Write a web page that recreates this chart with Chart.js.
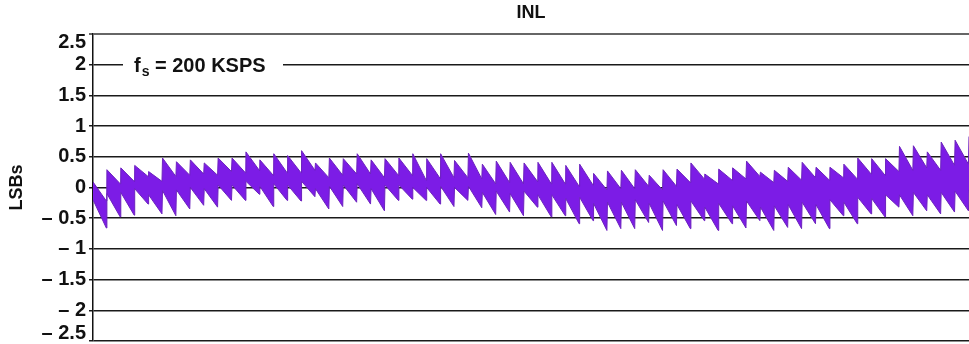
<!DOCTYPE html>
<html>
<head>
<meta charset="utf-8">
<script src="https://cdn.jsdelivr.net/npm/chart.js@4.4.0/dist/chart.umd.min.js"></script>
<style>
  html, body { margin: 0; padding: 0; background: #fff; }
  #wrap { width: 969px; height: 344px; }
</style>
</head>
<body>
<div id="wrap"><canvas id="inl"></canvas></div>
<script>
// y axis ticks and their printed labels
const yTicks = [-2.5, -2, -1.5, -1, -0.5, 0, 0.5, 1, 1.5, 2, 2.5];
const yTickLabels = ['– 2.5', '– 2', '– 1.5', '– 1', '– 0.5', '0', '0.5', '1', '1.5', '2', '2.5'];

// one entry per sawtooth code segment, first one (index -1) is cut by the axis
const firstTooth = -1;
// top of each tooth at its rising edge (LSB)
const toothPeak = [
  0.09, 0.29, 0.32, 0.36, 0.26, 0.48, 0.42, 0.45, 0.40, 0.48,
  0.48, 0.58, 0.45, 0.55, 0.52, 0.60, 0.40, 0.48, 0.47, 0.55,
  0.45, 0.47, 0.48, 0.55, 0.47, 0.55, 0.44, 0.56, 0.38, 0.43,
  0.41, 0.40, 0.41, 0.41, 0.36, 0.38, 0.23, 0.27, 0.28, 0.29,
  0.20, 0.29, 0.30, 0.40, 0.22, 0.30, 0.32, 0.43, 0.25, 0.28,
  0.33, 0.41, 0.33, 0.33, 0.38, 0.48, 0.47, 0.47, 0.67, 0.68,
  0.58, 0.74, 0.77, 0.83
];
// top of the band where the tooth ends
const toothTopEnd = [
  -0.22, 0.06, 0.10, 0.18, 0.10, 0.18, 0.20, 0.22, 0.20, 0.26,
  0.24, 0.28, 0.20, 0.24, 0.24, 0.28, 0.16, 0.20, 0.22, 0.22,
  0.16, 0.20, 0.20, 0.12, 0.15, 0.16, 0.16, 0.14, 0.06, 0.08,
  0.06, 0.10, 0.06, 0.06, 0.02, 0.04, -0.04, -0.02, -0.02, 0.02,
  -0.04, 0.02, 0.08, 0.14, 0.06, 0.12, 0.14, 0.18, 0.08, 0.10,
  0.12, 0.16, 0.12, 0.16, 0.14, 0.22, 0.20, 0.26, 0.28, 0.32,
  0.28, 0.36, 0.38, 0.40
];
// bottom of the band at the rising edge
const toothBottomStart = [
  -0.20, -0.10, -0.08, -0.02, -0.12, -0.05, -0.04, 0.00, -0.02, 0.04,
  0.04, 0.10, 0.02, 0.06, 0.04, 0.10, -0.02, 0.02, 0.04, 0.06,
  -0.02, 0.04, 0.04, 0.00, 0.00, 0.02, 0.00, 0.02, -0.08, -0.06,
  -0.10, -0.06, -0.12, -0.12, -0.18, -0.16, -0.26, -0.24, -0.24, -0.20,
  -0.26, -0.22, -0.28, -0.22, -0.32, -0.26, -0.30, -0.22, -0.32, -0.30,
  -0.28, -0.24, -0.28, -0.20, -0.24, -0.16, -0.18, -0.12, -0.12, -0.08,
  -0.12, -0.08, -0.06, -0.04
];
// lowest point of each tooth, just before the next one
const toothTrough = [
  -0.66, -0.48, -0.45, -0.27, -0.43, -0.46, -0.35, -0.29, -0.32, -0.21,
  -0.21, -0.11, -0.31, -0.21, -0.22, -0.15, -0.35, -0.31, -0.24, -0.27,
  -0.38, -0.21, -0.19, -0.21, -0.27, -0.31, -0.21, -0.33, -0.44, -0.40,
  -0.46, -0.32, -0.48, -0.46, -0.59, -0.54, -0.70, -0.67, -0.67, -0.57,
  -0.70, -0.62, -0.67, -0.54, -0.70, -0.59, -0.66, -0.54, -0.70, -0.65,
  -0.67, -0.59, -0.67, -0.46, -0.59, -0.43, -0.48, -0.32, -0.46, -0.38,
  -0.43, -0.40, -0.38, -0.35
];

const chartTitle = 'INL';
const annotationText = 'f';
const annotationSub = 's';
const annotationRest = ' = 200 KSPS';
const annotationLevel = 2;

const FONT = "'Liberation Sans', Arial, Helvetica, sans-serif";
const PURPLE = 'rgb(124, 28, 230)';
const PURPLE_EDGE = 'rgb(108, 34, 190)';

// each tooth is drawn from its rising edge to just before the next one
const upperEdge = [];
const lowerEdge = [];
toothPeak.forEach((peak, i) => {
  const k = firstTooth + i;
  upperEdge.push({ x: k, y: peak }, { x: k + 0.96, y: toothTopEnd[i] });
  lowerEdge.push({ x: k, y: toothBottomStart[i] }, { x: k + 0.96, y: toothTrough[i] });
});

// title centred over the plot area, plus the "fs = 200 KSPS" note on the 2 LSB line
const overlay = {
  id: 'overlay',
  afterDraw(chart) {
    const { ctx, chartArea, scales: { y } } = chart;
    ctx.save();
    ctx.fillStyle = '#111';
    ctx.textAlign = 'center';
    ctx.textBaseline = 'middle';
    ctx.font = `bold 18px ${FONT}`;
    ctx.fillText(chartTitle, (chartArea.left + chartArea.right) / 2, 13);

    const yPix = y.getPixelForValue(annotationLevel);
    const boxLeft = chartArea.left + 30;
    ctx.fillStyle = '#fff';
    ctx.fillRect(boxLeft, yPix - 13, 160, 26);
    ctx.fillStyle = '#111';
    ctx.textAlign = 'left';
    ctx.textBaseline = 'alphabetic';
    let x = boxLeft + 11;
    ctx.font = `bold 20px ${FONT}`;
    ctx.fillText(annotationText, x, yPix + 7);
    x += ctx.measureText(annotationText).width + 1;
    ctx.font = `bold 14px ${FONT}`;
    ctx.fillText(annotationSub, x, yPix + 11);
    x += ctx.measureText(annotationSub).width;
    ctx.font = `bold 20px ${FONT}`;
    ctx.fillText(annotationRest, x, yPix + 7);
    ctx.restore();
  }
};

new Chart(document.getElementById('inl'), {
  type: 'line',
  data: {
    datasets: [{
      data: upperEdge,
      borderColor: PURPLE_EDGE,
      borderWidth: 1,
      pointRadius: 0,
      tension: 0,
      fill: false
    }, {
      data: lowerEdge,
      borderColor: PURPLE_EDGE,
      backgroundColor: PURPLE,
      borderWidth: 1,
      pointRadius: 0,
      tension: 0,
      fill: '-1'
    }]
  },
  options: {
    responsive: true,
    maintainAspectRatio: false,
    animation: false,
    layout: { padding: { left: 0, right: 0, top: 34, bottom: 3 } },
    plugins: {
      legend: { display: false },
      tooltip: { enabled: false },
      title: { display: false }
    },
    scales: {
      x: {
        type: 'linear',
        min: -1,
        max: 62,
        display: false
      },
      y: {
        min: -2.5,
        max: 2.5,
        z: 1,
        afterFit: (scale) => {
          scale.width = 93;
          scale.paddingTop = 0;
          scale.paddingBottom = 0;
        },
        afterBuildTicks: (scale) => { scale.ticks = yTicks.map(v => ({ value: v })); },
        ticks: {
          autoSkip: false,
          color: '#111',
          padding: 3,
          font: { family: FONT, size: 20, weight: 'bold', lineHeight: 0.8 },
          callback: (value) => {
            const i = Math.round((value + 2.5) * 2);
            // the end labels sit inside the frame, as in the source plot
            if (i === 0) return [yTickLabels[i], ''];
            if (i === yTickLabels.length - 1) return ['', yTickLabels[i]];
            return yTickLabels[i];
          }
        },
        grid: {
          color: (ctx) => ctx.tick && ctx.tick.value === 2.5 ? '#666' : '#1a1a1a',
          lineWidth: (ctx) => ctx.tick && ctx.tick.value === 2.5 ? 2 : 1.5,
          tickLength: 4
        },
        border: { display: true, color: '#111', width: 1.5 },
        title: {
          display: true,
          text: 'LSBs',
          color: '#111',
          font: { family: FONT, size: 18, weight: 'bold' },
          padding: { top: 6, bottom: 0 }
        }
      }
    }
  },
  plugins: [overlay]
});
</script>
</body>
</html>
